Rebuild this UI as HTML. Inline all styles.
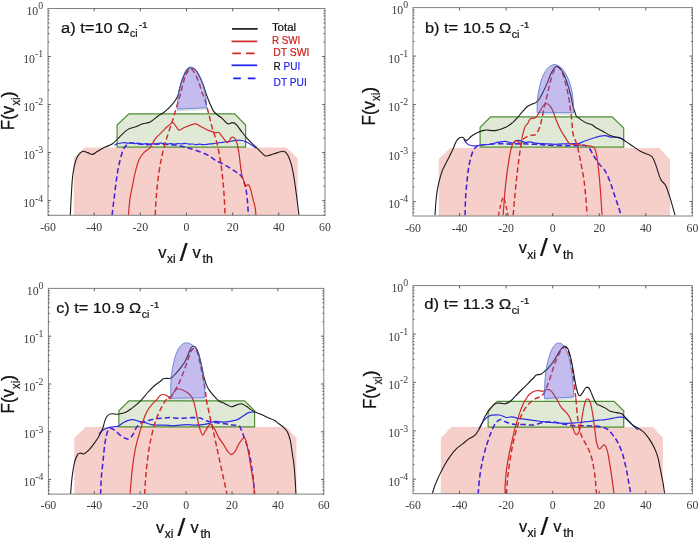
<!DOCTYPE html>
<html lang="en"><head><meta charset="utf-8"><title>Velocity distribution functions</title>
<style>html,body{margin:0;padding:0;background:#fff;}svg{display:block;}text{white-space:pre;}.b{stroke:#111;stroke-width:.22px;paint-order:stroke;}</style>
</head><body>
<svg width="699" height="540" viewBox="0 0 699 540">
<rect width="699" height="540" fill="#fff"/>
<clipPath id="clipa"><rect x="48" y="8.5" width="277" height="206.8"/></clipPath>
<g clip-path="url(#clipa)">
<path d="M73.9 216 L73.9 158 L85 147.6 L286.4 147.6 L297.7 158.4 L297.7 216 Z" fill="#f6cfcb"/>
<path d="M117.1 147.1 L117.1 125 L128.9 113.8 L234.6 113.8 L245.6 125 L245.6 147.1 Z" fill="#dfe9d6" stroke="#4f9030" stroke-width="1.2"/>
<path d="M112.1 215.2 C112.4 212.7 113.1 206 113.9 200.2 C114.6 194.3 115.5 186 116.4 180.1 C117.2 174.3 117.8 169.9 118.9 165.1 C119.9 160.3 121.4 154.7 122.6 151.3 C123.9 148 124.9 146.5 126.4 145.1 C127.8 143.7 128.2 143.2 131.4 143.1 C134.5 143 140.4 144.4 145.2 144.6 C149.9 144.8 155.2 144 160.2 144.1 C165.2 144.2 171 144.6 175.2 145.1 C179.4 145.6 181.9 146.3 185.2 147.1 C188.5 147.9 191.5 148.8 195.2 150.1 C199 151.4 204.4 153.4 207.7 155.1 C211.1 156.8 212.2 158.4 215.1 160.1 C218 161.8 221.8 163.2 225.1 165.1 C228.4 167 232.4 169.5 235.1 171.4 C237.8 173.3 239.7 174.1 241.4 176.4 C243 178.7 244.2 181.6 245.1 185.2 C246.1 188.7 246.6 192.7 247.1 197.7 C247.7 202.7 248.2 212.3 248.4 215.2" fill="none" stroke="#4322dc" stroke-width="1.55" stroke-linejoin="round" stroke-dasharray="5.4 3"/>
<path d="M114.5 145.2 C115 144.9 116.5 143.9 117.5 143.6 C118.5 143.3 119.6 143.3 120.7 143.2 C121.8 143 122.8 142.7 124 142.7 C125.2 142.7 126.8 143.1 128 143.1 C129.2 143.1 130.3 142.8 131.5 142.9 C132.7 143 133.8 143.6 135 143.6 C136.2 143.6 137.3 143.1 138.5 143.2 C139.7 143.3 140.9 144.1 142.2 144.2 C143.4 144.3 144.8 143.7 146 143.7 C147.2 143.7 148.3 144.1 149.5 144.1 C150.7 144.1 151.7 143.7 152.9 143.7 C154.2 143.7 155.8 144 157 143.9 C158.2 143.8 158.9 143.3 160 143.2 C161.1 143.1 162.4 143.3 163.6 143.4 C164.8 143.5 165.8 144 167 144 C168.2 144 169.3 143.6 170.5 143.6 C171.7 143.6 173.2 144.2 174.4 144.2 C175.7 144.2 176.8 143.6 178 143.6 C179.2 143.6 180.3 143.9 181.5 143.9 C182.7 143.9 183.8 143.4 185.1 143.4 C186.3 143.4 187.8 144 189 144.1 C190.2 144.2 191.4 143.9 192.5 144 C193.6 144.1 194.6 144.6 195.8 144.6 C197 144.6 198.3 144.2 199.5 144.2 C200.7 144.2 201.8 144.7 203 144.7 C204.2 144.7 205.4 144.4 206.6 144.3 C207.8 144.2 208.8 144 210 143.9 C211.2 143.8 212.3 143.8 213.5 143.6 C214.7 143.4 216.1 143.1 217.3 142.9 C218.6 142.7 219.8 142.8 221 142.6 C222.2 142.4 223.3 142.2 224.5 142 C225.7 141.8 226.8 141.9 228 141.7 C229.2 141.5 230.3 141.2 231.5 141 C232.7 140.8 233.8 140.7 235 140.6 C236.2 140.5 237.6 140.2 238.8 140.2 C240 140.2 241 140.3 242 140.5 C243 140.7 244 141 245 141.4 C246 141.8 246.9 142.2 248 142.8 C249.1 143.4 250.2 144.1 251.5 145 C252.8 145.9 255.2 147.5 255.9 148" fill="none" stroke="#2f2fe6" stroke-width="1.2" stroke-linejoin="round"/>
<path d="M155.2 215.2 C155.4 211.9 155.8 202.3 156.4 195.2 C157 188.1 157.9 179.7 158.9 172.6 C160 165.5 161.2 158.9 162.7 152.6 C164.1 146.3 166 140.5 167.7 135.1 C169.4 129.7 171.2 124.6 172.7 120.1 C174.2 115.5 175.2 111.7 176.4 107.5 C177.7 103.4 179.4 98 180.2 95 C181 92 180.7 92.4 181.5 89.5 C182.3 86.6 183.8 80.7 184.9 77.5 C186.1 74.3 187.5 71.7 188.4 70.3 C189.3 68.8 189.7 68.5 190.4 68.5 C191.1 68.5 191.7 69.1 192.7 70.3 C193.6 71.5 194.9 73.4 196.1 75.8 C197.2 78.1 198.5 81.5 199.5 84.3 C200.5 87.2 201.3 90.7 202.1 92.9 C202.9 95.2 203.2 94.4 204.3 97.8 C205.4 101.1 207.3 108.2 208.6 113.2 C209.9 118.2 210.8 122.7 212.2 127.6 C213.6 132.5 215.5 137.2 216.8 142.6 C218.2 148 219.4 154.3 220.3 160.1 C221.3 166 222 171.8 222.6 177.6 C223.2 183.5 223.7 188.9 224.1 195.2 C224.5 201.4 224.9 211.9 225.1 215.2" fill="none" stroke="#cf2a27" stroke-width="1.45" stroke-linejoin="round" stroke-dasharray="5.5 3"/>
<path d="M128.4 215.2 C128.7 212.3 129.4 202.7 130.1 197.7 C130.8 192.7 131.8 189.3 132.6 185.2 C133.5 181 134.1 176.8 135.1 172.6 C136.2 168.5 137.4 163.5 138.9 160.1 C140.4 156.8 142 154.7 143.9 152.6 C145.8 150.5 148.3 149.9 150.2 147.6 C152 145.3 153.3 141.3 155.2 138.8 C157 136.3 159.3 134.7 161.4 132.6 C163.5 130.5 165.8 128 167.7 126.3 C169.6 124.6 171.4 122.8 172.7 122.6 C173.9 122.3 174.2 123.8 175.2 125.1 C176.2 126.3 177.3 129.7 179 130.1 C180.6 130.4 182.5 128.1 185.2 127.1 C187.9 126 192.7 123.9 195.2 123.8 C197.7 123.7 198.1 125.3 200.2 126.3 C202.3 127.4 205.2 129 207.7 130.1 C210.2 131.1 213.4 132.2 215.3 132.6 C217.1 133 217.4 131.5 218.8 132.6 C220.3 133.6 222.4 137.2 223.9 138.8 C225.3 140.5 226.4 142.8 227.6 142.6 C228.9 142.4 230.3 138.4 231.4 137.6 C232.4 136.7 233 137 233.9 137.6 C234.7 138.2 235.5 138.8 236.4 141.3 C237.2 143.8 238 147.4 238.9 152.6 C239.7 157.8 240.5 167.8 241.4 172.6 C242.2 177.4 243.3 179.1 243.9 181.4 C244.5 183.7 244.4 185.9 245.1 186.4 C245.8 186.9 247.3 184.4 248.1 184.6 C249 184.9 249.4 185.5 250.1 187.7 C250.9 189.8 251.8 194.3 252.6 197.7 C253.5 201 254.6 204.8 255.2 207.7 C255.7 210.6 255.8 213.9 255.9 215.2" fill="none" stroke="#cf2a27" stroke-width="1.2" stroke-linejoin="round"/>
<path d="M70.3 215.2 C70.5 211.9 70.9 201.4 71.3 195.2 C71.7 188.9 72 182.6 72.5 177.6 C73.1 172.6 73.7 168.7 74.5 165.1 C75.4 161.6 76.2 158.7 77.5 156.4 C78.9 154.1 80.9 152 82.6 151.3 C84.2 150.7 85.9 152.1 87.6 152.6 C89.2 153.1 90.9 154.6 92.6 154.4 C94.2 154.1 95.5 152.6 97.6 151.3 C99.7 150.1 102.6 148.3 105.1 147.1 C107.6 145.8 110.1 145.6 112.6 143.8 C115.1 142 117.6 138.7 120.1 136.3 C122.6 133.9 125.1 131.1 127.6 129.6 C130.1 128 132.6 128 135.1 127.1 C137.6 126.1 140.1 124.6 142.6 123.8 C145.2 123 147.7 123.3 150.2 122.1 C152.7 120.8 155.2 118.1 157.7 116.3 C160.2 114.5 162.7 113.4 165.2 111.3 C167.7 109.2 170.6 106.3 172.7 103.8 C174.8 101.3 176.5 98.9 177.7 96.3 C178.9 93.6 178.9 90.9 179.8 87.8 C180.7 84.6 181.9 80.6 183.2 77.5 C184.5 74.4 186.2 70.9 187.5 69.2 C188.8 67.6 189.7 67.6 190.9 67.7 C192.2 67.8 193.9 68.5 195.2 69.7 C196.5 70.9 197.4 72.5 198.7 74.9 C200 77.3 201.7 81 203 84.3 C204.2 87.6 205.3 91.5 206.4 94.6 C207.5 97.8 208.7 100.5 209.8 103.2 C211 105.9 212 109 213.3 110.9 C214.6 112.9 216 113.7 217.6 115 C219.2 116.4 220.9 117.3 222.6 118.8 C224.3 120.3 225.9 123.2 227.6 123.8 C229.3 124.4 231.2 122.4 232.6 122.6 C234.1 122.7 234.9 123.1 236.4 124.6 C237.8 126 239.5 128.9 241.4 131.3 C243.3 133.7 245.3 136.3 247.6 138.8 C249.9 141.3 253.1 144.3 255.2 146.3 C257.2 148.4 258.5 149.8 260.2 151.3 C261.8 152.9 263.5 155.2 265.2 155.9 C266.8 156.5 268.1 155.6 270.2 155.1 C272.3 154.6 275.4 153.2 277.7 152.6 C280 152 282.3 150.9 283.9 151.3 C285.6 151.8 286.4 152.8 287.7 155.1 C289 157.4 290.4 161.4 291.5 165.1 C292.5 168.9 293.1 172.6 294 177.6 C294.8 182.6 295.6 188.9 296.5 195.2 C297.3 201.4 298.5 211.9 299 215.2" fill="none" stroke="#1a1a1a" stroke-width="1.1" stroke-linejoin="round"/>
<path d="M177.2 110.7 L206.4 109.3" stroke="rgba(0,0,0,0.13)" stroke-width="1.6" fill="none"/>
<path d="M177.2 109.2 C177.3 107.1 177.5 100.6 178.1 96.4 C178.7 92.2 179.6 88 180.6 84.3 C181.6 80.6 182.9 76.6 184.1 74 C185.2 71.4 186.4 69.6 187.5 68.5 C188.6 67.4 189.2 67.2 190.4 67.2 C191.6 67.2 193 67.4 194.4 68.5 C195.8 69.6 197.4 71.8 198.7 74 C200 76.2 201.1 78.9 202.1 81.8 C203.1 84.7 204 87.9 204.7 91.2 C205.4 94.5 206.1 98.7 206.4 101.5 C206.7 104.3 206.4 106.8 206.4 107.8 Z" fill="rgba(107,85,212,0.4)" stroke="rgba(70,110,200,0.75)" stroke-width="1"/>
</g>
<rect x="48" y="8.5" width="277" height="206.8" fill="none" stroke="#808080" stroke-width="1"/>
<text x="48" y="231.2" text-anchor="middle" font-family='"Liberation Serif", serif' font-size="11.8" fill="#3a3a3a">-60</text>
<text x="94.2" y="231.2" text-anchor="middle" font-family='"Liberation Serif", serif' font-size="11.8" fill="#3a3a3a">-40</text>
<text x="140.3" y="231.2" text-anchor="middle" font-family='"Liberation Serif", serif' font-size="11.8" fill="#3a3a3a">-20</text>
<text x="186.5" y="231.2" text-anchor="middle" font-family='"Liberation Serif", serif' font-size="11.8" fill="#3a3a3a">0</text>
<text x="232.7" y="231.2" text-anchor="middle" font-family='"Liberation Serif", serif' font-size="11.8" fill="#3a3a3a">20</text>
<text x="278.8" y="231.2" text-anchor="middle" font-family='"Liberation Serif", serif' font-size="11.8" fill="#3a3a3a">40</text>
<text x="325" y="231.2" text-anchor="middle" font-family='"Liberation Serif", serif' font-size="11.8" fill="#3a3a3a">60</text>
<text x="43.1" y="15" text-anchor="end" font-family='"Liberation Serif", serif' font-size="11.8" fill="#3a3a3a">10<tspan dy="-5.7" font-size="9.8">0</tspan></text>
<text x="43.1" y="63" text-anchor="end" font-family='"Liberation Serif", serif' font-size="11.8" fill="#3a3a3a">10<tspan dy="-5.7" font-size="9.8">-1</tspan></text>
<text x="43.1" y="111.1" text-anchor="end" font-family='"Liberation Serif", serif' font-size="11.8" fill="#3a3a3a">10<tspan dy="-5.7" font-size="9.8">-2</tspan></text>
<text x="43.1" y="159.1" text-anchor="end" font-family='"Liberation Serif", serif' font-size="11.8" fill="#3a3a3a">10<tspan dy="-5.7" font-size="9.8">-3</tspan></text>
<text x="43.1" y="207.2" text-anchor="end" font-family='"Liberation Serif", serif' font-size="11.8" fill="#3a3a3a">10<tspan dy="-5.7" font-size="9.8">-4</tspan></text>
<path d="M94.2 215.3 v-2.8 M94.2 8.5 v2.8 M140.3 215.3 v-2.8 M140.3 8.5 v2.8 M186.5 215.3 v-2.8 M186.5 8.5 v2.8 M232.7 215.3 v-2.8 M232.7 8.5 v2.8 M278.8 215.3 v-2.8 M278.8 8.5 v2.8 M48 42.1 h1.4 M325 42.1 h-1.4 M48 33.6 h1.4 M325 33.6 h-1.4 M48 27.6 h1.4 M325 27.6 h-1.4 M48 23 h1.4 M325 23 h-1.4 M48 19.2 h1.4 M325 19.2 h-1.4 M48 15.9 h1.4 M325 15.9 h-1.4 M48 13.2 h1.4 M325 13.2 h-1.4 M48 10.7 h1.4 M325 10.7 h-1.4 M48 56.5 h2.8 M325 56.5 h-2.8 M48 90.1 h1.4 M325 90.1 h-1.4 M48 81.7 h1.4 M325 81.7 h-1.4 M48 75.7 h1.4 M325 75.7 h-1.4 M48 71 h1.4 M325 71 h-1.4 M48 67.2 h1.4 M325 67.2 h-1.4 M48 64 h1.4 M325 64 h-1.4 M48 61.2 h1.4 M325 61.2 h-1.4 M48 58.7 h1.4 M325 58.7 h-1.4 M48 104.6 h2.8 M325 104.6 h-2.8 M48 138.2 h1.4 M325 138.2 h-1.4 M48 129.7 h1.4 M325 129.7 h-1.4 M48 123.7 h1.4 M325 123.7 h-1.4 M48 119.1 h1.4 M325 119.1 h-1.4 M48 115.3 h1.4 M325 115.3 h-1.4 M48 112 h1.4 M325 112 h-1.4 M48 109.3 h1.4 M325 109.3 h-1.4 M48 106.8 h1.4 M325 106.8 h-1.4 M48 152.6 h2.8 M325 152.6 h-2.8 M48 186.2 h1.4 M325 186.2 h-1.4 M48 177.8 h1.4 M325 177.8 h-1.4 M48 171.8 h1.4 M325 171.8 h-1.4 M48 167.1 h1.4 M325 167.1 h-1.4 M48 163.3 h1.4 M325 163.3 h-1.4 M48 160.1 h1.4 M325 160.1 h-1.4 M48 157.3 h1.4 M325 157.3 h-1.4 M48 154.8 h1.4 M325 154.8 h-1.4 M48 200.7 h2.8 M325 200.7 h-2.8 M48 215.2 h1.4 M325 215.2 h-1.4 M48 211.4 h1.4 M325 211.4 h-1.4 M48 208.1 h1.4 M325 208.1 h-1.4 M48 205.4 h1.4 M325 205.4 h-1.4 M48 202.9 h1.4 M325 202.9 h-1.4" stroke="#4a4a4a" stroke-width="0.9" fill="none"/>
<text class="b" x="61.1" y="32.8" font-family='"Liberation Sans", sans-serif' font-size="15.2" fill="#111"><tspan textLength="68.5" lengthAdjust="spacingAndGlyphs">a) t=10 Ω</tspan><tspan dx="0.5" dy="4.5" font-size="10" textLength="7.6" lengthAdjust="spacingAndGlyphs">ci</tspan><tspan dx="1" dy="-9.7" font-size="9.4" textLength="9" lengthAdjust="spacingAndGlyphs">-1</tspan></text>
<text class="b" font-family='"Liberation Sans", sans-serif' font-size="17.2" fill="#111"><tspan x="158.3" y="258" textLength="8.2" lengthAdjust="spacingAndGlyphs">v</tspan><tspan x="166.9" y="263.2" font-size="12">xi</tspan><tspan x="179.7" y="260.8" font-size="23" textLength="7.8" lengthAdjust="spacingAndGlyphs">/</tspan><tspan x="192.6" y="258" textLength="8.2" lengthAdjust="spacingAndGlyphs">v</tspan><tspan x="202.6" y="263.2" font-size="12.4">th</tspan></text>
<text class="b" transform="translate(14.4 130.2) rotate(-90)" font-family='"Liberation Sans", sans-serif' font-size="18.3" fill="#111"><tspan x="0" y="0" textLength="24.6" lengthAdjust="spacingAndGlyphs">F(v</tspan><tspan x="24.6" y="5.4" font-size="12" textLength="8" lengthAdjust="spacingAndGlyphs">xi</tspan><tspan x="32.6" y="0">)</tspan></text>
<clipPath id="clipb"><rect x="413" y="7.6" width="279.4" height="208.4"/></clipPath>
<g clip-path="url(#clipb)">
<path d="M438.8 217 L438.8 158.9 L450.1 148.1 L659.2 148.1 L670 159.4 L670 217 Z" fill="#f6cfcb"/>
<path d="M480.1 147.1 L480.1 127.6 L490.6 116.8 L612.1 116.8 L623.7 128.1 L623.7 147.1 Z" fill="#dfe9d6" stroke="#4f9030" stroke-width="1.2"/>
<path d="M465.1 215.2 C465.2 212.3 465.2 203.5 465.6 197.7 C465.9 191.8 466.5 185.6 467.1 180.1 C467.7 174.7 468.2 169.8 469.1 165.1 C470 160.4 471.4 155.1 472.6 152.1 C473.8 149.1 474.9 148 476.3 146.8 C477.8 145.7 479.1 145.8 481.4 145.3 C483.7 144.9 487 144.4 490.1 144.1 C493.2 143.8 496.8 143.6 500.1 143.6 C503.5 143.6 506.8 144.1 510.2 144.1 C513.5 144.1 516.8 143.6 520.2 143.6 C523.5 143.6 526.8 143.9 530.2 144.1 C533.5 144.3 536.9 144.4 540.2 144.6 C543.5 144.8 546 145.2 550.2 145.3 C554.4 145.5 560.2 145.5 565.2 145.6 C570.2 145.7 577.1 145.9 580.3 145.8 C583.4 145.8 582.6 145 584.1 145.3 C585.6 145.7 587.4 146.3 589.1 148.1 C590.8 149.9 592.4 153.7 594.1 156.4 C595.8 159 597.2 161.4 599.1 163.9 C601 166.4 603.5 168.2 605.4 171.4 C607.2 174.5 608.9 178.9 610.4 182.6 C611.8 186.4 612.9 190.2 614.1 193.9 C615.4 197.7 616.7 201.6 617.9 205.2 C619.1 208.7 620.6 213.5 621.1 215.2" fill="none" stroke="#4322dc" stroke-width="1.55" stroke-linejoin="round" stroke-dasharray="5.4 3"/>
<path d="M463.8 138.8 C464.2 139.5 465.3 141.8 466.3 142.8 C467.4 143.9 468.5 144.8 470.1 145.3 C471.6 145.8 473.5 146 475.6 145.8 C477.7 145.7 480.2 144.8 482.6 144.6 C485 144.3 487.6 144.7 490.1 144.3 C492.6 144 495.1 142.8 497.6 142.3 C500.1 141.8 502.6 141.2 505.1 141.3 C507.6 141.5 510.8 143.2 512.7 143.1 C514.5 143 515.2 141 516.4 140.6 C517.7 140.2 518.7 140.3 520.2 140.6 C521.6 140.9 523.5 142.1 525.2 142.3 C526.8 142.5 528.5 141.7 530.2 141.8 C531.8 142 532.7 142.8 535.2 143.1 C537.7 143.4 541.9 143.6 545.2 143.8 C548.5 144 551.9 144.3 555.2 144.3 C558.6 144.3 561.9 144 565.2 143.8 C568.6 143.7 573.1 143.6 575.2 143.6 C577.3 143.6 576.4 144.2 577.8 143.8 C579.3 143.5 581.8 142.2 584.1 141.3 C586.4 140.5 589.1 139.7 591.6 138.8 C594.1 138 596.8 136.9 599.1 136.3 C601.4 135.8 603.5 135.5 605.4 135.6 C607.2 135.7 608.7 136.8 610.4 137.1 C612 137.3 613.7 136.9 615.4 137.1 C617.1 137.2 618.9 137.6 620.4 138.1 C621.9 138.6 623.5 139.7 624.2 140.1" fill="none" stroke="#2f2fe6" stroke-width="1.2" stroke-linejoin="round"/>
<path d="M513.2 215.2 C513.4 212.3 514.1 203.5 514.7 197.7 C515.2 191.8 515.8 185.6 516.4 180.1 C517 174.7 517.5 170.1 518.2 165.1 C518.8 160.1 519.4 154.3 520.2 150.1 C520.9 145.9 521.4 142.4 522.7 140.1 C523.9 137.8 526 137.2 527.7 136.3 C529.3 135.5 531.3 135.4 532.7 135.1 C534.1 134.7 535 135.4 536.2 134.1 C537.4 132.8 538.6 130.1 539.6 127.3 C540.6 124.4 541.4 120.7 542.2 117 C543.1 113.2 543.9 108.7 544.8 104.9 C545.6 101.2 546.5 98.2 547.4 94.6 C548.2 91.1 548.9 87.2 549.9 83.5 C550.9 79.8 552.2 75 553.4 72.3 C554.5 69.6 555.8 67.9 556.8 67.2 C557.8 66.5 558.4 66.9 559.4 68 C560.4 69.2 561.7 71 562.8 74 C564 77 565.2 82 566.2 86.1 C567.2 90.1 568.1 94.1 568.8 98.1 C569.5 102.1 570 106.1 570.5 110.1 C571.1 114.1 571.5 118.1 571.9 122.1 C572.3 126.1 572.2 130.3 573.1 134.1 C574 138 575.9 140.8 577.1 145.1 C578.3 149.4 579.2 154.7 580.3 160.1 C581.4 165.5 582.7 171.8 583.6 177.6 C584.5 183.5 585 188.9 585.6 195.2 C586.2 201.4 586.8 211.9 587.1 215.2" fill="none" stroke="#cf2a27" stroke-width="1.45" stroke-linejoin="round" stroke-dasharray="5.5 3"/>
<path d="M503.1 215.2 C503.4 211.9 504.1 201.4 504.6 195.2 C505.2 188.9 505.7 183.5 506.4 177.6 C507.1 171.8 508.1 165.1 508.9 160.1 C509.7 155.1 510.6 150.6 511.4 147.6 C512.2 144.6 513.1 143.3 513.9 142.1 C514.7 140.9 515.6 140.6 516.4 140.6 C517.2 140.6 518.2 141.5 518.9 142.1 C519.6 142.7 520 145.3 520.7 144.1 C521.3 142.9 521.9 138 522.7 135.1 C523.4 132.1 524.3 128.2 525.2 126.3 C526 124.4 526.8 125.1 527.6 123.8 C528.5 122.5 528.9 119.7 530.2 118.7 C531.5 117.7 533.8 119 535.3 117.8 C536.9 116.7 538.3 113.8 539.6 111.8 C540.9 109.8 542 107.2 543.1 105.8 C544.2 104.4 545.2 103.7 546.2 103.6 C547.2 103.4 548 103.8 549.1 104.9 C550.1 106 551.5 108.1 552.5 110.1 C553.5 112.1 554.2 114.7 555.1 117 C555.9 119.2 556.7 121.5 557.7 123.8 C558.7 126.1 559.8 128.4 561.1 130.7 C562.4 133 564 135.5 565.3 137.6 C566.6 139.6 567.6 141.9 569.1 143.1 C570.5 144.3 572 144.3 574.1 144.6 C576.2 144.9 579.1 144.9 581.6 145.1 C584.1 145.3 587 145.4 589.1 145.8 C591.2 146.3 592.9 146 594.1 147.6 C595.4 149.1 595.9 151.3 596.6 155.1 C597.4 158.9 598 164.3 598.6 170.1 C599.2 176 599.8 182.6 600.4 190.2 C600.9 197.7 601.8 211 602.1 215.2" fill="none" stroke="#cf2a27" stroke-width="1.2" stroke-linejoin="round"/>
<path d="M498.4 216 C498.8 214.3 499.7 209.1 500.5 206 C501.3 202.9 502.4 197.3 503.3 197.3 C504.2 197.3 505.2 202.9 506 206 C506.8 209.1 507.8 214.3 508.2 216" fill="none" stroke="#cf2a27" stroke-width="1.3" stroke-linejoin="round" stroke-dasharray="4.5 2.6"/>
<path d="M435 215.2 C435.2 212.3 435.7 203.1 436.3 197.7 C436.9 192.2 437.7 187.2 438.8 182.6 C439.8 178.1 441.1 173.9 442.5 170.1 C444 166.4 445.9 163.5 447.6 160.1 C449.2 156.8 451.1 153.2 452.6 150.1 C454 147 455.1 143.4 456.3 141.3 C457.6 139.2 458.9 138.2 460.1 137.6 C461.2 137 462 137.1 463.1 137.6 C464.1 138.1 465 140.8 466.3 140.6 C467.7 140.4 469.5 137.7 471.3 136.3 C473.2 135 475.3 133.6 477.6 132.6 C479.9 131.5 482.2 130.4 485.1 130.1 C488 129.7 491.8 131 495.1 130.6 C498.5 130.2 502.2 128.9 505.1 127.6 C508.1 126.2 510.6 124.2 512.7 122.6 C514.7 120.9 516 119.4 517.7 117.5 C519.3 115.7 521 113.2 522.7 111.3 C524.3 109.4 526 107.5 527.7 106.3 C529.3 105 531.4 104.3 532.7 103.8 C534 103.2 534.3 103.5 535.3 102.9 C536.4 102.2 537.5 101.6 538.8 99.8 C540.1 98 541.6 94.9 543.1 92.1 C544.5 89.2 546.1 85.6 547.4 82.6 C548.6 79.6 549.6 76.5 550.8 74 C551.9 71.6 553.2 69.3 554.2 68 C555.3 66.7 556.1 66.2 557.1 66.3 C558.1 66.4 559.1 67.3 560.2 68.5 C561.3 69.8 562.5 71.7 563.7 74 C564.8 76.4 566 79.2 567.1 82.6 C568.2 86.1 569.5 90.6 570.5 94.6 C571.5 98.6 572.3 103.4 573.1 106.7 C574 109.9 575.1 112.8 575.7 114.4 C576.3 116 575.6 115.4 576.6 116.3 C577.6 117.2 579.9 118.9 581.6 120.1 C583.3 121.2 584.9 122.3 586.6 123.1 C588.3 123.8 589.9 123.7 591.6 124.6 C593.3 125.4 594.7 126.9 596.6 128.1 C598.5 129.2 600.8 130.2 602.9 131.3 C605 132.5 607 134.1 609.1 135.1 C611.2 136 613.5 136.6 615.4 137.1 C617.3 137.6 618.5 137.2 620.4 138.1 C622.3 138.9 624.4 140.6 626.7 142.1 C628.9 143.6 631.9 145.5 634.2 147.1 C636.5 148.6 638.3 150.2 640.4 151.3 C642.5 152.5 644.8 153 646.7 153.9 C648.6 154.7 650.2 154.7 651.7 156.4 C653.2 158 654 160.1 655.4 163.9 C656.9 167.6 658.8 175.3 660.5 178.9 C662.1 182.4 664 182.4 665.5 185.2 C666.9 187.9 668.1 191.8 669.2 195.2 C670.3 198.5 671.3 201.8 672.2 205.2 C673.2 208.5 674.5 213.5 675 215.2" fill="none" stroke="#1a1a1a" stroke-width="1.1" stroke-linejoin="round"/>
<path d="M537.1 114.2 L573.6 114.2" stroke="rgba(0,0,0,0.13)" stroke-width="1.6" fill="none"/>
<path d="M537.1 112.7 C537.1 110.5 537 103.9 537.4 99.8 C537.8 95.6 538.5 91.5 539.3 87.8 C540.1 84 541 80.5 542.2 77.5 C543.4 74.5 545.1 71.7 546.5 69.7 C547.9 67.8 549.4 66.7 550.8 65.8 C552.2 64.9 553.7 64.5 555.1 64.6 C556.5 64.7 557.9 65.3 559.4 66.3 C560.8 67.3 562.2 68.6 563.7 70.6 C565.1 72.6 566.7 75.3 568 78.3 C569.2 81.3 570.5 85.1 571.4 88.6 C572.3 92.2 572.7 95.8 573.1 99.8 C573.5 103.8 573.5 110.5 573.6 112.7 Z" fill="rgba(107,85,212,0.4)" stroke="rgba(70,110,200,0.75)" stroke-width="1"/>
</g>
<rect x="413" y="7.6" width="279.4" height="208.4" fill="none" stroke="#808080" stroke-width="1"/>
<text x="413" y="232.1" text-anchor="middle" font-family='"Liberation Serif", serif' font-size="11.8" fill="#3a3a3a">-60</text>
<text x="459.6" y="232.1" text-anchor="middle" font-family='"Liberation Serif", serif' font-size="11.8" fill="#3a3a3a">-40</text>
<text x="506.1" y="232.1" text-anchor="middle" font-family='"Liberation Serif", serif' font-size="11.8" fill="#3a3a3a">-20</text>
<text x="552.7" y="232.1" text-anchor="middle" font-family='"Liberation Serif", serif' font-size="11.8" fill="#3a3a3a">0</text>
<text x="599.3" y="232.1" text-anchor="middle" font-family='"Liberation Serif", serif' font-size="11.8" fill="#3a3a3a">20</text>
<text x="645.8" y="232.1" text-anchor="middle" font-family='"Liberation Serif", serif' font-size="11.8" fill="#3a3a3a">40</text>
<text x="692.4" y="232.1" text-anchor="middle" font-family='"Liberation Serif", serif' font-size="11.8" fill="#3a3a3a">60</text>
<text x="408.1" y="14.1" text-anchor="end" font-family='"Liberation Serif", serif' font-size="11.8" fill="#3a3a3a">10<tspan dy="-5.7" font-size="9.8">0</tspan></text>
<text x="408.1" y="62.6" text-anchor="end" font-family='"Liberation Serif", serif' font-size="11.8" fill="#3a3a3a">10<tspan dy="-5.7" font-size="9.8">-1</tspan></text>
<text x="408.1" y="111.1" text-anchor="end" font-family='"Liberation Serif", serif' font-size="11.8" fill="#3a3a3a">10<tspan dy="-5.7" font-size="9.8">-2</tspan></text>
<text x="408.1" y="159.6" text-anchor="end" font-family='"Liberation Serif", serif' font-size="11.8" fill="#3a3a3a">10<tspan dy="-5.7" font-size="9.8">-3</tspan></text>
<text x="408.1" y="208.1" text-anchor="end" font-family='"Liberation Serif", serif' font-size="11.8" fill="#3a3a3a">10<tspan dy="-5.7" font-size="9.8">-4</tspan></text>
<path d="M459.6 216 v-2.8 M459.6 7.6 v2.8 M506.1 216 v-2.8 M506.1 7.6 v2.8 M552.7 216 v-2.8 M552.7 7.6 v2.8 M599.3 216 v-2.8 M599.3 7.6 v2.8 M645.8 216 v-2.8 M645.8 7.6 v2.8 M413 41.5 h1.4 M692.4 41.5 h-1.4 M413 33 h1.4 M692.4 33 h-1.4 M413 26.9 h1.4 M692.4 26.9 h-1.4 M413 22.2 h1.4 M692.4 22.2 h-1.4 M413 18.4 h1.4 M692.4 18.4 h-1.4 M413 15.1 h1.4 M692.4 15.1 h-1.4 M413 12.3 h1.4 M692.4 12.3 h-1.4 M413 9.8 h1.4 M692.4 9.8 h-1.4 M413 56.1 h2.8 M692.4 56.1 h-2.8 M413 90 h1.4 M692.4 90 h-1.4 M413 81.5 h1.4 M692.4 81.5 h-1.4 M413 75.4 h1.4 M692.4 75.4 h-1.4 M413 70.7 h1.4 M692.4 70.7 h-1.4 M413 66.9 h1.4 M692.4 66.9 h-1.4 M413 63.6 h1.4 M692.4 63.6 h-1.4 M413 60.8 h1.4 M692.4 60.8 h-1.4 M413 58.3 h1.4 M692.4 58.3 h-1.4 M413 104.6 h2.8 M692.4 104.6 h-2.8 M413 138.5 h1.4 M692.4 138.5 h-1.4 M413 130 h1.4 M692.4 130 h-1.4 M413 123.9 h1.4 M692.4 123.9 h-1.4 M413 119.2 h1.4 M692.4 119.2 h-1.4 M413 115.4 h1.4 M692.4 115.4 h-1.4 M413 112.1 h1.4 M692.4 112.1 h-1.4 M413 109.3 h1.4 M692.4 109.3 h-1.4 M413 106.8 h1.4 M692.4 106.8 h-1.4 M413 153.1 h2.8 M692.4 153.1 h-2.8 M413 187 h1.4 M692.4 187 h-1.4 M413 178.5 h1.4 M692.4 178.5 h-1.4 M413 172.4 h1.4 M692.4 172.4 h-1.4 M413 167.7 h1.4 M692.4 167.7 h-1.4 M413 163.9 h1.4 M692.4 163.9 h-1.4 M413 160.6 h1.4 M692.4 160.6 h-1.4 M413 157.8 h1.4 M692.4 157.8 h-1.4 M413 155.3 h1.4 M692.4 155.3 h-1.4 M413 201.6 h2.8 M692.4 201.6 h-2.8 M413 212.4 h1.4 M692.4 212.4 h-1.4 M413 209.1 h1.4 M692.4 209.1 h-1.4 M413 206.3 h1.4 M692.4 206.3 h-1.4 M413 203.8 h1.4 M692.4 203.8 h-1.4" stroke="#4a4a4a" stroke-width="0.9" fill="none"/>
<text class="b" x="424.9" y="33.2" font-family='"Liberation Sans", sans-serif' font-size="15.2" fill="#111"><tspan textLength="86.4" lengthAdjust="spacingAndGlyphs">b) t= 10.5 Ω</tspan><tspan dx="0.5" dy="4.5" font-size="10" textLength="7.6" lengthAdjust="spacingAndGlyphs">ci</tspan><tspan dx="1" dy="-9.7" font-size="9.4" textLength="9" lengthAdjust="spacingAndGlyphs">-1</tspan></text>
<text class="b" font-family='"Liberation Sans", sans-serif' font-size="17.2" fill="#111"><tspan x="518.7" y="253.3" textLength="8.2" lengthAdjust="spacingAndGlyphs">v</tspan><tspan x="527.3" y="258.5" font-size="12">xi</tspan><tspan x="540.1" y="256.1" font-size="23" textLength="7.8" lengthAdjust="spacingAndGlyphs">/</tspan><tspan x="553" y="253.3" textLength="8.2" lengthAdjust="spacingAndGlyphs">v</tspan><tspan x="563" y="258.5" font-size="12.4">th</tspan></text>
<text class="b" transform="translate(374.7 125.5) rotate(-90)" font-family='"Liberation Sans", sans-serif' font-size="18.3" fill="#111"><tspan x="0" y="0" textLength="24.6" lengthAdjust="spacingAndGlyphs">F(v</tspan><tspan x="24.6" y="5.4" font-size="12" textLength="8" lengthAdjust="spacingAndGlyphs">xi</tspan><tspan x="32.6" y="0">)</tspan></text>
<clipPath id="clipc"><rect x="48.4" y="288.4" width="275.4" height="205.7"/></clipPath>
<g clip-path="url(#clipc)">
<path d="M74.3 496 L74.3 438.1 L85.6 427.1 L286.4 427.1 L296.5 438.1 L296.5 496 Z" fill="#f6cfcb"/>
<path d="M118.9 426.8 L118.9 410.8 L128.9 400.8 L244.6 400.8 L254.6 410.8 L254.6 426.8 Z" fill="#dfe9d6" stroke="#4f9030" stroke-width="1.2"/>
<path d="M100.6 494.4 C100.7 491.6 100.9 483.4 101.3 477.7 C101.8 472 102.5 466 103.1 460.1 C103.7 454.3 104.3 447.4 105.1 442.6 C105.8 437.8 106.7 433.7 107.6 431.3 C108.5 429 109.3 428.5 110.6 428.3 C111.9 428.2 113.5 429.5 115.1 430.6 C116.7 431.7 118.4 433.9 120.1 435.1 C121.8 436.4 123.7 437.5 125.1 438.1 C126.6 438.7 127.6 439.4 128.9 438.9 C130.1 438.4 131.4 437 132.6 435.1 C133.9 433.2 134.9 429.7 136.4 427.6 C137.8 425.5 139.5 423.8 141.4 422.6 C143.3 421.4 145.4 421.2 147.7 420.6 C149.9 420 152.7 419.2 155.2 418.8 C157.7 418.4 160.2 418.3 162.7 418.1 C165.2 417.9 167.7 417.5 170.2 417.6 C172.7 417.6 175.2 418.2 177.7 418.3 C180.2 418.4 182.7 418.2 185.2 418.1 C187.7 418 190.2 417.6 192.7 417.6 C195.2 417.6 198.2 417.6 200.2 418.1 C202.3 418.6 202.6 419.8 205.1 420.6 C207.6 421.3 211.8 422 215.1 422.6 C218.4 423.1 222.2 423.4 225.1 423.8 C228 424.3 230.3 424.8 232.6 425.1 C234.9 425.4 237.4 425 238.9 425.8 C240.3 426.7 240.3 427.7 241.4 430.1 C242.4 432.5 243.9 436.6 245.1 440.1 C246.4 443.7 247.8 447.2 248.9 451.4 C249.9 455.6 250.6 460.4 251.4 465.2 C252.1 469.9 252.9 475.3 253.4 480.2 C253.9 485.1 254.4 492.1 254.6 494.4" fill="none" stroke="#4322dc" stroke-width="1.55" stroke-linejoin="round" stroke-dasharray="5.4 3"/>
<path d="M98.8 433.9 C99.7 433.1 102 430.7 103.8 429.6 C105.7 428.5 107.8 427.6 110.1 427.1 C112.4 426.6 115.5 427 117.6 426.3 C119.7 425.7 120.9 424 122.6 423.1 C124.3 422.1 126 421.2 127.6 420.6 C129.3 420 130.8 419.5 132.6 419.6 C134.5 419.7 136.8 420.8 138.9 421.3 C141 421.8 143.1 422 145.2 422.6 C147.2 423.1 149.3 424.2 151.4 424.6 C153.5 425 155.4 425 157.7 425.1 C160 425.2 162.7 425 165.2 425.1 C167.7 425.2 170.2 425.8 172.7 425.8 C175.2 425.8 177.7 425.3 180.2 425.1 C182.7 424.9 185.2 424.6 187.7 424.6 C190.2 424.6 192.7 425.1 195.2 425.1 C197.7 425.1 200.2 424.9 202.7 424.6 C205.2 424.3 208.2 423.6 210.2 423.1 C212.3 422.5 213 421.5 215.1 421.3 C217.1 421.2 220.1 422.1 222.6 422.1 C225.1 422.1 227.6 421.8 230.1 421.3 C232.6 420.9 235.5 420.4 237.6 419.6 C239.7 418.7 241 417.4 242.6 416.3 C244.3 415.2 246.2 413.8 247.6 413.1 C249.1 412.4 250.1 412.2 251.4 412.1 C252.6 411.9 254.5 412.1 255.2 412.1" fill="none" stroke="#2f2fe6" stroke-width="1.2" stroke-linejoin="round"/>
<path d="M144.6 494.4 C144.8 491.6 145.2 483 145.7 477.7 C146.1 472.4 146.5 468.1 147.2 462.6 C147.8 457.2 148.7 450.3 149.7 445.1 C150.6 439.9 151.5 435.7 152.7 431.3 C153.8 427 155 422.8 156.4 418.8 C157.9 414.9 159.5 411.1 161.4 407.6 C163.3 404 166.1 399.5 167.7 397.5 C169.3 395.6 169.5 398.2 171.2 396.1 C172.9 394 176.1 388.8 178.1 384.9 C180.1 381.1 181.6 376.9 183.2 372.9 C184.8 368.9 186.2 364.5 187.5 360.9 C188.8 357.3 189.9 353.5 190.9 351.5 C192 349.4 192.9 348.5 193.9 348.5 C194.9 348.5 196 349.4 197 351.5 C197.9 353.5 198.7 357.3 199.5 360.9 C200.4 364.5 201.2 368.6 202.1 372.9 C203 377.2 204 382.4 204.7 386.7 C205.4 390.9 206.1 396.4 206.4 398.7 C206.7 400.9 205.8 397.3 206.3 400.1 C206.9 402.8 208.5 410.1 209.6 415.1 C210.7 420.1 212 425.1 213.1 430.1 C214.2 435.1 215.2 439.7 216.3 445.1 C217.5 450.5 218.8 456.8 220.1 462.6 C221.3 468.5 222.7 474.9 223.9 480.2 C225 485.5 226.6 492.1 227.1 494.4" fill="none" stroke="#cf2a27" stroke-width="1.45" stroke-linejoin="round" stroke-dasharray="5.5 3"/>
<path d="M130.1 494.4 C130.3 491.6 130.9 483 131.4 477.7 C131.9 472.4 132.4 467.7 133.1 462.6 C133.8 457.6 134.7 452.2 135.6 447.6 C136.6 443 137.7 439.3 138.9 435.1 C140.1 430.9 141.4 426.3 142.6 422.6 C143.9 418.8 144.9 415.5 146.4 412.6 C147.9 409.7 149.7 407.1 151.4 405.1 C153.1 403 155 401.6 156.4 400.1 C157.9 398.5 158.9 396.5 160.2 395.5 C161.4 394.6 162.7 394.4 163.9 394.5 C165.2 394.7 166.6 395.6 167.7 396.3 C168.7 397 169.1 399.5 170.2 398.8 C171.2 398.1 172.7 393.7 173.9 392 C175.2 390.4 176.2 389.1 177.7 388.8 C179.2 388.5 180.8 389.2 182.7 390 C184.6 390.9 187.3 392.3 189 393.8 C190.6 395.3 191.7 396.5 192.7 398.8 C193.8 401.1 194.4 404 195.2 407.6 C196.1 411.1 196.9 416.3 197.7 420.1 C198.6 423.8 199.4 427.6 200.2 430.1 C201.1 432.6 201.9 434.9 202.7 435.1 C203.6 435.3 204.2 433 205.2 431.3 C206.3 429.7 208 426.2 209 425.1 C210 424 210.5 423.8 211.5 424.6 C212.5 425.4 213.9 427.9 215.1 430.1 C216.3 432.3 217.4 435.1 218.8 437.6 C220.3 440.1 222.4 442.8 223.9 445.1 C225.3 447.4 226.4 449.8 227.6 451.4 C228.9 453 230.1 454.6 231.4 454.6 C232.6 454.6 233.9 453.2 235.1 451.4 C236.4 449.6 237.6 446 238.9 443.9 C240.1 441.8 241.7 439.9 242.6 438.9 C243.6 437.8 244 437 244.6 437.6 C245.3 438.2 245.7 439.7 246.4 442.6 C247.1 445.5 248.1 450.5 248.9 455.1 C249.7 459.7 250.6 465.6 251.4 470.2 C252.1 474.7 252.9 478.6 253.4 482.7 C253.9 486.7 254.4 492.5 254.6 494.4" fill="none" stroke="#cf2a27" stroke-width="1.2" stroke-linejoin="round"/>
<path d="M70.5 494.4 C70.8 491.6 71.4 483 72 477.7 C72.7 472.4 73.6 466.5 74.5 462.6 C75.5 458.8 76.5 456.2 77.5 454.6 C78.6 453 79.5 453.3 80.6 453.1 C81.6 453 82.4 454.4 83.8 453.9 C85.2 453.4 87.1 451.8 88.8 450.1 C90.5 448.5 92.2 446.2 93.8 443.9 C95.5 441.6 97.4 438.9 98.8 436.4 C100.3 433.9 101.5 431.6 102.6 428.8 C103.6 426.1 104.2 422.4 105.1 420.1 C106 417.8 106.9 416.1 108.1 415.1 C109.3 414 110.5 413.9 112.1 413.8 C113.7 413.7 115.4 414.5 117.6 414.3 C119.8 414.1 122.6 413.7 125.1 412.6 C127.6 411.4 130.1 409.4 132.6 407.6 C135.1 405.7 137.6 403.8 140.1 401.3 C142.6 398.8 145.2 395.3 147.7 392.5 C150.2 389.8 152.9 387 155.2 385 C157.5 383 160.2 381.5 161.4 380.5 C162.7 379.5 161.7 379.3 162.6 378.9 C163.5 378.6 165.5 378.6 166.9 378.4 C168.3 378.3 169.8 378.8 171.2 378.1 C172.6 377.3 173.9 375.5 175.5 373.8 C177.1 372.1 179.1 369.8 180.6 367.8 C182.2 365.8 183.6 364 184.9 361.8 C186.2 359.5 187.4 356.3 188.4 354 C189.4 351.7 190.1 349.3 190.9 348 C191.8 346.7 192.7 346.3 193.5 346.3 C194.4 346.3 195.2 346.7 196.1 348 C197 349.3 197.8 351.3 198.7 354 C199.5 356.8 200.4 360.6 201.2 364.3 C202.1 368.1 203 372.9 203.8 376.4 C204.7 379.8 205.4 382.5 206.4 384.9 C207.4 387.4 208.5 389.1 209.8 390.9 C211.1 392.8 212.5 394.4 214.1 396.1 C215.7 397.8 217.9 400.2 219.3 401.2 C220.7 402.3 221.2 401.9 222.6 402.6 C224 403.2 226.1 404.4 227.6 405.1 C229.1 405.8 229.9 406.8 231.4 406.8 C232.8 406.8 234.7 405.6 236.4 405.1 C238 404.6 239.7 403.6 241.4 403.8 C243 404 244.7 405.3 246.4 406.3 C248.1 407.4 249.9 409.1 251.4 410.1 C252.9 411 253.5 411.3 255.2 412.1 C256.8 412.8 259.3 413.7 261.4 414.6 C263.5 415.5 265.6 416.7 267.7 417.6 C269.8 418.5 272.1 419 273.9 420.1 C275.8 421.1 277.3 422.6 278.9 423.8 C280.6 425.1 282.5 426.1 283.9 427.6 C285.4 429.1 286.7 430.5 287.7 432.6 C288.7 434.7 289.5 436.8 290.2 440.1 C291 443.5 291.6 448.5 292.2 452.6 C292.8 456.8 293.5 460.6 294 465.2 C294.5 469.7 294.9 475.3 295.2 480.2 C295.5 485.1 295.8 492.1 296 494.4" fill="none" stroke="#1a1a1a" stroke-width="1.1" stroke-linejoin="round"/>
<path d="M170.9 399.8 L204.7 399.3" stroke="rgba(0,0,0,0.13)" stroke-width="1.6" fill="none"/>
<path d="M170.9 398.3 C170.9 395.5 170.6 386.6 170.9 381.5 C171.1 376.4 171.8 372.1 172.6 367.8 C173.3 363.5 174.4 359 175.5 355.8 C176.6 352.5 177.6 350 178.9 348 C180.2 346 181.8 344.6 183.2 343.7 C184.6 342.9 186.1 342.7 187.5 342.9 C188.9 343 190.4 343.6 191.8 344.6 C193.2 345.6 194.8 346.7 196.1 348.9 C197.4 351 198.5 354.3 199.5 357.5 C200.5 360.6 201.4 364 202.1 367.8 C202.8 371.5 203.4 376.1 203.8 379.8 C204.2 383.5 204.5 387.1 204.7 390.1 C204.8 393.1 204.7 396.5 204.7 397.8 Z" fill="rgba(107,85,212,0.4)" stroke="rgba(70,110,200,0.75)" stroke-width="1"/>
</g>
<rect x="48.4" y="288.4" width="275.4" height="205.7" fill="none" stroke="#808080" stroke-width="1"/>
<text x="48.4" y="509" text-anchor="middle" font-family='"Liberation Serif", serif' font-size="11.8" fill="#3a3a3a">-60</text>
<text x="94.3" y="509" text-anchor="middle" font-family='"Liberation Serif", serif' font-size="11.8" fill="#3a3a3a">-40</text>
<text x="140.2" y="509" text-anchor="middle" font-family='"Liberation Serif", serif' font-size="11.8" fill="#3a3a3a">-20</text>
<text x="186.1" y="509" text-anchor="middle" font-family='"Liberation Serif", serif' font-size="11.8" fill="#3a3a3a">0</text>
<text x="232" y="509" text-anchor="middle" font-family='"Liberation Serif", serif' font-size="11.8" fill="#3a3a3a">20</text>
<text x="277.9" y="509" text-anchor="middle" font-family='"Liberation Serif", serif' font-size="11.8" fill="#3a3a3a">40</text>
<text x="323.8" y="509" text-anchor="middle" font-family='"Liberation Serif", serif' font-size="11.8" fill="#3a3a3a">60</text>
<text x="43.5" y="294.9" text-anchor="end" font-family='"Liberation Serif", serif' font-size="11.8" fill="#3a3a3a">10<tspan dy="-5.7" font-size="9.8">0</tspan></text>
<text x="43.5" y="342.7" text-anchor="end" font-family='"Liberation Serif", serif' font-size="11.8" fill="#3a3a3a">10<tspan dy="-5.7" font-size="9.8">-1</tspan></text>
<text x="43.5" y="390.5" text-anchor="end" font-family='"Liberation Serif", serif' font-size="11.8" fill="#3a3a3a">10<tspan dy="-5.7" font-size="9.8">-2</tspan></text>
<text x="43.5" y="438.3" text-anchor="end" font-family='"Liberation Serif", serif' font-size="11.8" fill="#3a3a3a">10<tspan dy="-5.7" font-size="9.8">-3</tspan></text>
<text x="43.5" y="486.1" text-anchor="end" font-family='"Liberation Serif", serif' font-size="11.8" fill="#3a3a3a">10<tspan dy="-5.7" font-size="9.8">-4</tspan></text>
<path d="M94.3 494.1 v-2.8 M94.3 288.4 v2.8 M140.2 494.1 v-2.8 M140.2 288.4 v2.8 M186.1 494.1 v-2.8 M186.1 288.4 v2.8 M232 494.1 v-2.8 M232 288.4 v2.8 M277.9 494.1 v-2.8 M277.9 288.4 v2.8 M48.4 321.8 h1.4 M323.8 321.8 h-1.4 M48.4 313.4 h1.4 M323.8 313.4 h-1.4 M48.4 307.4 h1.4 M323.8 307.4 h-1.4 M48.4 302.8 h1.4 M323.8 302.8 h-1.4 M48.4 299 h1.4 M323.8 299 h-1.4 M48.4 295.8 h1.4 M323.8 295.8 h-1.4 M48.4 293 h1.4 M323.8 293 h-1.4 M48.4 290.6 h1.4 M323.8 290.6 h-1.4 M48.4 336.2 h2.8 M323.8 336.2 h-2.8 M48.4 369.6 h1.4 M323.8 369.6 h-1.4 M48.4 361.2 h1.4 M323.8 361.2 h-1.4 M48.4 355.2 h1.4 M323.8 355.2 h-1.4 M48.4 350.6 h1.4 M323.8 350.6 h-1.4 M48.4 346.8 h1.4 M323.8 346.8 h-1.4 M48.4 343.6 h1.4 M323.8 343.6 h-1.4 M48.4 340.8 h1.4 M323.8 340.8 h-1.4 M48.4 338.4 h1.4 M323.8 338.4 h-1.4 M48.4 384 h2.8 M323.8 384 h-2.8 M48.4 417.4 h1.4 M323.8 417.4 h-1.4 M48.4 409 h1.4 M323.8 409 h-1.4 M48.4 403 h1.4 M323.8 403 h-1.4 M48.4 398.4 h1.4 M323.8 398.4 h-1.4 M48.4 394.6 h1.4 M323.8 394.6 h-1.4 M48.4 391.4 h1.4 M323.8 391.4 h-1.4 M48.4 388.6 h1.4 M323.8 388.6 h-1.4 M48.4 386.2 h1.4 M323.8 386.2 h-1.4 M48.4 431.8 h2.8 M323.8 431.8 h-2.8 M48.4 465.2 h1.4 M323.8 465.2 h-1.4 M48.4 456.8 h1.4 M323.8 456.8 h-1.4 M48.4 450.8 h1.4 M323.8 450.8 h-1.4 M48.4 446.2 h1.4 M323.8 446.2 h-1.4 M48.4 442.4 h1.4 M323.8 442.4 h-1.4 M48.4 439.2 h1.4 M323.8 439.2 h-1.4 M48.4 436.4 h1.4 M323.8 436.4 h-1.4 M48.4 434 h1.4 M323.8 434 h-1.4 M48.4 479.6 h2.8 M323.8 479.6 h-2.8 M48.4 494 h1.4 M323.8 494 h-1.4 M48.4 490.2 h1.4 M323.8 490.2 h-1.4 M48.4 487 h1.4 M323.8 487 h-1.4 M48.4 484.2 h1.4 M323.8 484.2 h-1.4 M48.4 481.8 h1.4 M323.8 481.8 h-1.4" stroke="#4a4a4a" stroke-width="0.9" fill="none"/>
<text class="b" x="56.2" y="313.2" font-family='"Liberation Sans", sans-serif' font-size="15.2" fill="#111"><tspan textLength="85" lengthAdjust="spacingAndGlyphs">c) t= 10.9 Ω</tspan><tspan dx="0.5" dy="4.5" font-size="10" textLength="7.6" lengthAdjust="spacingAndGlyphs">ci</tspan><tspan dx="1" dy="-9.7" font-size="9.4" textLength="9" lengthAdjust="spacingAndGlyphs">-1</tspan></text>
<text class="b" font-family='"Liberation Sans", sans-serif' font-size="17.2" fill="#111"><tspan x="156.1" y="533.1" textLength="8.2" lengthAdjust="spacingAndGlyphs">v</tspan><tspan x="164.7" y="538.3" font-size="12">xi</tspan><tspan x="177.5" y="535.9" font-size="23" textLength="7.8" lengthAdjust="spacingAndGlyphs">/</tspan><tspan x="190.4" y="533.1" textLength="8.2" lengthAdjust="spacingAndGlyphs">v</tspan><tspan x="200.4" y="538.3" font-size="12.4">th</tspan></text>
<text class="b" transform="translate(14.4 413.5) rotate(-90)" font-family='"Liberation Sans", sans-serif' font-size="18.3" fill="#111"><tspan x="0" y="0" textLength="24.6" lengthAdjust="spacingAndGlyphs">F(v</tspan><tspan x="24.6" y="5.4" font-size="12" textLength="8" lengthAdjust="spacingAndGlyphs">xi</tspan><tspan x="32.6" y="0">)</tspan></text>
<clipPath id="clipd"><rect x="413" y="285.6" width="279.4" height="208.1"/></clipPath>
<g clip-path="url(#clipd)">
<path d="M440.8 495 L440.8 438.1 L451.3 427.1 L652.9 427.1 L663 438.1 L663 495 Z" fill="#f6cfcb"/>
<path d="M488.1 427.1 L488.1 410.8 L497.1 401.3 L614.1 401.3 L623.7 410.8 L623.7 427.1 Z" fill="#dfe9d6" stroke="#4f9030" stroke-width="1.2"/>
<path d="M478.1 494.4 C478.4 491.6 478.9 483 479.6 477.7 C480.3 472.4 481.2 467.2 482.1 462.6 C483 458 484.3 453.2 485.1 450.1 C485.9 447 486.3 446.1 487 443.9 C487.7 441.6 488.7 438.8 489.5 436.6 C490.3 434.4 490.9 432.7 491.9 430.5 C492.9 428.3 494.1 425.2 495.5 423.4 C496.9 421.6 498.6 419.8 500.4 419.6 C502.2 419.4 504.3 421.5 506.5 422.3 C508.7 423.1 511 423.9 513.8 424.3 C516.6 424.7 520.2 424.4 523.5 424.5 C526.8 424.6 530 425.3 533.3 425 C536.5 424.7 539.8 423.2 543 422.7 C546.2 422.1 549.5 421.5 552.7 421.7 C556 421.9 559.2 423.4 562.5 424 C565.8 424.6 569 425.2 572.2 425.5 C575.4 425.8 578.6 425.6 581.9 425.7 C585.1 425.8 588.5 425.7 591.7 425.9 C595 426.1 598.7 426.3 601.4 426.9 C604.1 427.5 606 428.2 607.9 429.6 C609.8 431 611.2 432.9 612.9 435.1 C614.6 437.3 616.4 439.7 617.9 442.6 C619.4 445.5 620.9 448.9 622.1 452.6 C623.4 456.4 624.4 460.9 625.4 465.1 C626.4 469.3 627.2 473.9 627.9 477.7 C628.6 481.5 629.2 484.9 629.7 487.7 C630.2 490.5 630.7 493.3 630.9 494.4" fill="none" stroke="#4322dc" stroke-width="1.55" stroke-linejoin="round" stroke-dasharray="5.4 3"/>
<path d="M478.9 428.8 C479.3 428 480.6 425.5 481.5 424 C482.4 422.5 483.5 420.8 484.6 419.6 C485.7 418.4 486.8 417.5 488 416.8 C489.2 416.1 490 415.5 491.9 415.2 C493.8 414.9 497.3 414.8 499.2 415 C501.1 415.2 501.8 415.8 503 416.2 C504.2 416.6 505.3 417.4 506.5 417.5 C507.7 417.6 508.8 417.1 510 417 C511.2 416.9 512.5 417 513.8 417.2 C515 417.4 516.3 418.1 517.5 418.4 C518.7 418.7 519.7 418.8 521.1 418.9 C522.5 419 524.4 419.1 526 419.3 C527.6 419.5 529.2 419.9 530.8 420.1 C532.4 420.3 533.9 420.4 535.5 420.6 C537.1 420.8 538.9 421.3 540.6 421.5 C542.3 421.7 543.9 421.6 545.5 421.8 C547.1 422 548.7 422.4 550.3 422.5 C551.9 422.6 553.4 422.5 555 422.6 C556.6 422.7 558.3 423.1 560 423.2 C561.7 423.3 563.4 423.4 565 423.4 C566.6 423.4 568.2 423.3 569.8 423.2 C571.4 423.1 572.9 423 574.5 422.9 C576.1 422.8 577.8 422.7 579.5 422.5 C581.2 422.3 582.9 422 584.5 421.8 C586.1 421.6 587.6 421.7 589.2 421.5 C590.8 421.3 592.4 420.8 594 420.6 C595.6 420.4 597.3 420.2 599 420.1 C600.7 420 602.4 420 604 419.8 C605.6 419.6 607.1 419.4 608.7 419.1 C610.3 418.8 611.9 418.5 613.5 418.2 C615.1 417.9 616.8 417.3 618.4 417.2 C620 417.1 621.9 416.9 623.3 417.3 C624.7 417.7 625.8 418.8 627 419.8 C628.2 420.8 629.4 422 630.6 423.2 C631.9 424.4 633.3 425.7 634.5 426.8 C635.7 427.9 637.4 429.5 638 430" fill="none" stroke="#2f2fe6" stroke-width="1.2" stroke-linejoin="round"/>
<path d="M506.4 494.4 C506.6 491.6 507.1 483 507.6 477.7 C508.2 472.4 508.8 468.1 509.6 462.6 C510.5 457.2 511.5 450.5 512.7 445.1 C513.8 439.7 514.9 435.1 516.4 430.1 C517.9 425.1 519.5 419.2 521.4 415.1 C523.3 410.9 525.4 407.8 527.7 405.1 C530 402.3 532.7 400.5 535.2 398.8 C537.7 397.1 540.5 397.6 542.7 395 C544.9 392.5 546.7 387 548.2 383.4 C549.7 379.7 550.5 376.5 551.7 373.1 C552.8 369.6 553.8 366.1 555.1 362.8 C556.4 359.5 558.1 355.8 559.4 353.3 C560.7 350.9 561.8 349.2 562.8 348.2 C563.8 347.2 564.5 346.9 565.4 347.3 C566.2 347.7 567.1 348.7 568 350.8 C568.8 352.8 569.8 355.9 570.5 359.3 C571.3 362.8 572 367.3 572.6 371.4 C573.2 375.4 573.8 379.1 574.3 383.4 C574.8 387.7 575.4 394.7 575.7 397.1 C575.9 399.5 575.6 394.6 575.8 397.5 C576.1 400.5 576.7 409.7 577.3 415.1 C578 420.5 578.5 425.9 579.6 430.1 C580.6 434.3 582.2 437.2 583.6 440.1 C585 443 586.5 444.7 587.8 447.6 C589.2 450.5 590.6 453.9 591.6 457.6 C592.6 461.4 593.4 466 594.1 470.2 C594.8 474.3 595.2 478.6 595.6 482.7 C596 486.7 596.4 492.5 596.6 494.4" fill="none" stroke="#cf2a27" stroke-width="1.45" stroke-linejoin="round" stroke-dasharray="5.5 3"/>
<path d="M505.1 494.4 C505.1 492.9 504.9 489.2 505.1 485.2 C505.4 481.1 505.8 475.2 506.4 470.2 C507 465.2 507.9 460.1 508.9 455.1 C509.9 450.1 511.1 444.7 512.2 440.1 C513.2 435.5 514 431.8 515.2 427.6 C516.3 423.4 517.7 418.8 518.9 415.1 C520.2 411.3 521.2 408.2 522.7 405.1 C524.1 401.9 526 398.5 527.7 396.3 C529.3 394.1 531 393 532.7 392 C534.4 391.1 536 390.7 537.7 390.5 C539.4 390.4 541.1 391.5 542.7 391.3 C544.3 391.1 545.7 389.3 547.2 389.3 C548.7 389.3 549.9 389.7 551.5 391.3 C553 392.9 554.8 396.1 556.5 398.8 C558.1 401.5 559.8 405.3 561.5 407.6 C563.1 409.9 565 410.7 566.5 412.6 C568 414.4 569.3 416.3 570.3 418.8 C571.4 421.3 572 425.1 572.8 427.6 C573.7 430.1 574.5 432.8 575.3 433.9 C576.2 434.9 577 434.9 577.8 433.9 C578.7 432.8 579.5 431.1 580.3 427.6 C581.2 424 582 417 582.8 412.6 C583.7 408.2 584.5 403.6 585.3 401.3 C586.2 399 587 398.6 587.8 398.8 C588.7 399 589.5 399.8 590.3 402.6 C591.2 405.3 592.1 410.5 592.9 415.1 C593.6 419.7 594.2 425.5 594.9 430.1 C595.5 434.7 595.9 439.5 596.6 442.6 C597.3 445.7 598.2 448.2 599.1 448.9 C600 449.5 601.2 447 602.1 446.4 C603 445.7 603.8 444.5 604.6 445.1 C605.5 445.7 606.4 447.6 607.1 450.1 C607.9 452.6 608.5 456.4 609.1 460.1 C609.8 463.9 610.5 468.5 611.1 472.7 C611.8 476.8 612.4 481.5 612.9 485.2 C613.4 488.8 613.9 492.9 614.1 494.4" fill="none" stroke="#cf2a27" stroke-width="1.2" stroke-linejoin="round"/>
<path d="M432 494.4 C432.5 492.9 433.9 488.2 435 485.2 C436.2 482.2 437.3 479.5 438.8 476.4 C440.3 473.3 441.9 469.7 443.8 466.4 C445.7 463.1 448 459.3 450.1 456.4 C452.1 453.5 454.2 451 456.3 448.9 C458.4 446.8 460.5 445.5 462.6 443.9 C464.7 442.2 466.8 440.3 468.8 438.9 C470.9 437.4 473.2 437 475.1 435.1 C477 433.2 478.4 430.7 480.1 427.6 C481.8 424.5 483.4 419.5 485.1 416.3 C486.8 413.2 488.5 410.9 490.1 408.8 C491.8 406.7 493.5 404.8 495.1 403.8 C496.8 402.8 498.5 403.1 500.1 403.1 C501.8 403.1 503.5 404.1 505.1 403.8 C506.8 403.5 508.5 402.6 510.2 401.3 C511.8 400.1 513.3 398.2 515.2 396.3 C517 394.4 519.3 392.1 521.4 390 C523.5 388 525.6 385.9 527.7 383.8 C529.8 381.7 532.5 379 533.9 377.5 C535.4 376.1 535 375.7 536.2 375.1 C537.4 374.5 539.8 374.7 541.4 373.9 C542.9 373.2 544.2 371.8 545.6 370.5 C547.1 369.2 548.5 367.9 549.9 366.2 C551.4 364.5 552.9 362.2 554.2 360.2 C555.5 358.2 556.5 356 557.7 354.2 C558.8 352.3 560.1 350.3 561.1 349 C562.1 347.7 562.9 346.9 563.7 346.5 C564.4 346 565 346 565.7 346.5 C566.4 346.9 567.2 347.3 568 349 C568.8 350.8 569.7 353.3 570.5 356.8 C571.4 360.2 572.4 365.8 573.1 369.6 C573.8 373.5 574.3 376.8 574.8 379.9 C575.4 383.1 576 386.1 576.5 388.5 C577.1 391 577.7 393.3 578.3 394.5 C578.8 395.7 579.3 396 580 395.7 C580.7 395.4 581.7 394 582.6 392.8 C583.4 391.6 584.3 389.5 585.1 388.5 C585.9 387.6 586.6 387 587.4 387.1 C588.1 387.3 589 388.1 589.8 389.4 C590.5 390.6 591.2 392.7 592 394.5 C592.8 396.4 593.7 398.9 594.6 400.5 C595.4 402.2 596.1 403.5 597.1 404.3 C598.1 405.2 599.2 405.1 600.6 405.7 C602 406.3 603.7 407.1 605.4 408.1 C607 409 608.5 410.6 610.4 411.3 C612.3 412.1 614.8 412.2 616.6 412.6 C618.5 413 620 412.8 621.6 413.8 C623.3 414.9 624.8 417 626.7 418.8 C628.5 420.7 630.8 423.4 632.9 425.1 C635 426.8 637.3 427.6 639.2 428.8 C641.1 430.1 642.5 430.9 644.2 432.6 C645.8 434.3 647.5 436.4 649.2 438.9 C650.9 441.4 652.7 444.5 654.2 447.6 C655.7 450.8 656.9 453.9 658 457.6 C659 461.4 659.6 466 660.5 470.2 C661.3 474.3 662.2 478.6 663 482.7 C663.7 486.7 664.4 492.5 664.7 494.4" fill="none" stroke="#1a1a1a" stroke-width="1.1" stroke-linejoin="round"/>
<path d="M544.4 400 L573.6 398.6" stroke="rgba(0,0,0,0.13)" stroke-width="1.6" fill="none"/>
<path d="M544.4 398.5 C544.5 396 544.5 388.2 544.8 383.4 C545.1 378.6 545.4 374.1 546.2 369.6 C546.9 365.2 548 360.3 549.1 356.8 C550.1 353.2 551.4 350.3 552.5 348.2 C553.7 346 554.8 344.7 555.9 343.9 C557.1 343 558.2 342.9 559.4 343 C560.5 343.2 561.7 343.6 562.8 344.7 C564 345.9 565.2 347.6 566.2 349.9 C567.3 352.2 568.3 355.2 569.2 358.5 C570 361.8 570.8 365.8 571.4 369.6 C572 373.5 572.4 377.9 572.8 381.7 C573.1 385.4 573.5 389.4 573.6 392 C573.8 394.5 573.6 396.2 573.6 397.1 Z" fill="rgba(107,85,212,0.4)" stroke="rgba(70,110,200,0.75)" stroke-width="1"/>
</g>
<rect x="413" y="285.6" width="279.4" height="208.1" fill="none" stroke="#808080" stroke-width="1"/>
<text x="413" y="509.2" text-anchor="middle" font-family='"Liberation Serif", serif' font-size="11.8" fill="#3a3a3a">-60</text>
<text x="459.6" y="509.2" text-anchor="middle" font-family='"Liberation Serif", serif' font-size="11.8" fill="#3a3a3a">-40</text>
<text x="506.1" y="509.2" text-anchor="middle" font-family='"Liberation Serif", serif' font-size="11.8" fill="#3a3a3a">-20</text>
<text x="552.7" y="509.2" text-anchor="middle" font-family='"Liberation Serif", serif' font-size="11.8" fill="#3a3a3a">0</text>
<text x="599.3" y="509.2" text-anchor="middle" font-family='"Liberation Serif", serif' font-size="11.8" fill="#3a3a3a">20</text>
<text x="645.8" y="509.2" text-anchor="middle" font-family='"Liberation Serif", serif' font-size="11.8" fill="#3a3a3a">40</text>
<text x="692.4" y="509.2" text-anchor="middle" font-family='"Liberation Serif", serif' font-size="11.8" fill="#3a3a3a">60</text>
<text x="408.1" y="292.1" text-anchor="end" font-family='"Liberation Serif", serif' font-size="11.8" fill="#3a3a3a">10<tspan dy="-5.7" font-size="9.8">0</tspan></text>
<text x="408.1" y="340.5" text-anchor="end" font-family='"Liberation Serif", serif' font-size="11.8" fill="#3a3a3a">10<tspan dy="-5.7" font-size="9.8">-1</tspan></text>
<text x="408.1" y="388.9" text-anchor="end" font-family='"Liberation Serif", serif' font-size="11.8" fill="#3a3a3a">10<tspan dy="-5.7" font-size="9.8">-2</tspan></text>
<text x="408.1" y="437.3" text-anchor="end" font-family='"Liberation Serif", serif' font-size="11.8" fill="#3a3a3a">10<tspan dy="-5.7" font-size="9.8">-3</tspan></text>
<text x="408.1" y="485.7" text-anchor="end" font-family='"Liberation Serif", serif' font-size="11.8" fill="#3a3a3a">10<tspan dy="-5.7" font-size="9.8">-4</tspan></text>
<path d="M459.6 493.7 v-2.8 M459.6 285.6 v2.8 M506.1 493.7 v-2.8 M506.1 285.6 v2.8 M552.7 493.7 v-2.8 M552.7 285.6 v2.8 M599.3 493.7 v-2.8 M599.3 285.6 v2.8 M645.8 493.7 v-2.8 M645.8 285.6 v2.8 M413 319.4 h1.4 M692.4 319.4 h-1.4 M413 310.9 h1.4 M692.4 310.9 h-1.4 M413 304.9 h1.4 M692.4 304.9 h-1.4 M413 300.2 h1.4 M692.4 300.2 h-1.4 M413 296.3 h1.4 M692.4 296.3 h-1.4 M413 293.1 h1.4 M692.4 293.1 h-1.4 M413 290.3 h1.4 M692.4 290.3 h-1.4 M413 287.8 h1.4 M692.4 287.8 h-1.4 M413 334 h2.8 M692.4 334 h-2.8 M413 367.8 h1.4 M692.4 367.8 h-1.4 M413 359.3 h1.4 M692.4 359.3 h-1.4 M413 353.3 h1.4 M692.4 353.3 h-1.4 M413 348.6 h1.4 M692.4 348.6 h-1.4 M413 344.7 h1.4 M692.4 344.7 h-1.4 M413 341.5 h1.4 M692.4 341.5 h-1.4 M413 338.7 h1.4 M692.4 338.7 h-1.4 M413 336.2 h1.4 M692.4 336.2 h-1.4 M413 382.4 h2.8 M692.4 382.4 h-2.8 M413 416.2 h1.4 M692.4 416.2 h-1.4 M413 407.7 h1.4 M692.4 407.7 h-1.4 M413 401.7 h1.4 M692.4 401.7 h-1.4 M413 397 h1.4 M692.4 397 h-1.4 M413 393.1 h1.4 M692.4 393.1 h-1.4 M413 389.9 h1.4 M692.4 389.9 h-1.4 M413 387.1 h1.4 M692.4 387.1 h-1.4 M413 384.6 h1.4 M692.4 384.6 h-1.4 M413 430.8 h2.8 M692.4 430.8 h-2.8 M413 464.6 h1.4 M692.4 464.6 h-1.4 M413 456.1 h1.4 M692.4 456.1 h-1.4 M413 450.1 h1.4 M692.4 450.1 h-1.4 M413 445.4 h1.4 M692.4 445.4 h-1.4 M413 441.5 h1.4 M692.4 441.5 h-1.4 M413 438.3 h1.4 M692.4 438.3 h-1.4 M413 435.5 h1.4 M692.4 435.5 h-1.4 M413 433 h1.4 M692.4 433 h-1.4 M413 479.2 h2.8 M692.4 479.2 h-2.8 M413 489.9 h1.4 M692.4 489.9 h-1.4 M413 486.7 h1.4 M692.4 486.7 h-1.4 M413 483.9 h1.4 M692.4 483.9 h-1.4 M413 481.4 h1.4 M692.4 481.4 h-1.4" stroke="#4a4a4a" stroke-width="0.9" fill="none"/>
<text class="b" x="424.3" y="309" font-family='"Liberation Sans", sans-serif' font-size="15.2" fill="#111"><tspan textLength="87" lengthAdjust="spacingAndGlyphs">d) t= 11.3 Ω</tspan><tspan dx="0.5" dy="4.5" font-size="10" textLength="7.6" lengthAdjust="spacingAndGlyphs">ci</tspan><tspan dx="1" dy="-9.7" font-size="9.4" textLength="9" lengthAdjust="spacingAndGlyphs">-1</tspan></text>
<text class="b" font-family='"Liberation Sans", sans-serif' font-size="17.2" fill="#111"><tspan x="519" y="531.9" textLength="8.2" lengthAdjust="spacingAndGlyphs">v</tspan><tspan x="527.6" y="537.1" font-size="12">xi</tspan><tspan x="540.4" y="534.7" font-size="23" textLength="7.8" lengthAdjust="spacingAndGlyphs">/</tspan><tspan x="553.3" y="531.9" textLength="8.2" lengthAdjust="spacingAndGlyphs">v</tspan><tspan x="563.3" y="537.1" font-size="12.4">th</tspan></text>
<text class="b" transform="translate(376.1 409.1) rotate(-90)" font-family='"Liberation Sans", sans-serif' font-size="18.3" fill="#111"><tspan x="0" y="0" textLength="24.6" lengthAdjust="spacingAndGlyphs">F(v</tspan><tspan x="24.6" y="5.4" font-size="12" textLength="8" lengthAdjust="spacingAndGlyphs">xi</tspan><tspan x="32.6" y="0">)</tspan></text>
<path d="M232 28.9 H257.7" stroke="#1a1a1a" stroke-width="1.7"/>
<path d="M231.5 41.4 H257.2" stroke="#cf2a27" stroke-width="1.7"/>
<path d="M232.3 53.3 H240.9 M246 53.3 H254.6" stroke="#cf2a27" stroke-width="1.7"/>
<path d="M231.5 65.3 H257.2" stroke="#1f1ff5" stroke-width="1.7"/>
<path d="M233.2 78.3 H240.9 M247.8 78.3 H255.5" stroke="#1f1ff5" stroke-width="1.7"/>
<text x="271.9" y="31" font-family='"Liberation Sans", sans-serif' font-size="10.6" fill="#111" stroke="#111" stroke-width="0.2" textLength="24.2" lengthAdjust="spacingAndGlyphs">Total</text>
<text x="271.9" y="43.5" font-family='"Liberation Sans", sans-serif' font-size="10.6" fill="#c9211e" stroke="#c9211e" stroke-width="0.2" textLength="28.4" lengthAdjust="spacingAndGlyphs">R SWI</text>
<text x="273.2" y="55.5" font-family='"Liberation Sans", sans-serif' font-size="10.6" fill="#c9211e" stroke="#c9211e" stroke-width="0.2" textLength="36.2" lengthAdjust="spacingAndGlyphs">DT SWI</text>
<text x="273.6" y="70.1" font-family='"Liberation Sans", sans-serif' font-size="10.6" fill="#111" stroke="#111" stroke-width="0.2" textLength="26.6" lengthAdjust="spacingAndGlyphs">R <tspan fill="#1f1ff0" stroke="#1f1ff0">PUI</tspan></text>
<text x="273.6" y="85.5" font-family='"Liberation Sans", sans-serif' font-size="10.6" fill="#1f1ff0" stroke="#1f1ff0" stroke-width="0.2" textLength="33.2" lengthAdjust="spacingAndGlyphs">DT PUI</text>
</svg></body></html>
